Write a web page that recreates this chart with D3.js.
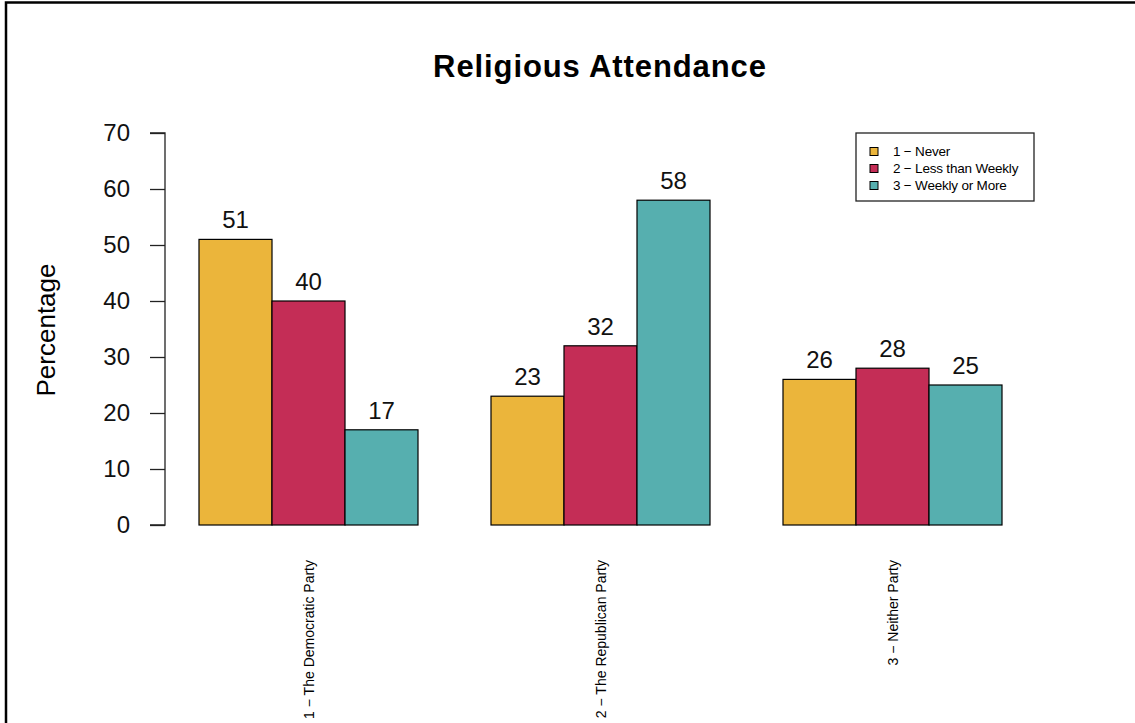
<!DOCTYPE html>
<html><head><meta charset="utf-8">
<script src="https://cdn.jsdelivr.net/npm/d3@7"></script>
<style>html,body{margin:0;padding:0;background:#fff;overflow:hidden}svg{display:block;font-family:"Liberation Sans",Arial,Helvetica,sans-serif}</style>
</head><body>
<svg id="chart" width="1135" height="723"></svg>
<script>
const categories = ["1 − The Democratic Party", "2 − The Republican Party", "3 − Neither Party"];
const seriesNames = ["1 − Never", "2 − Less than Weekly", "3 − Weekly or More"];
const never = [51, 23, 26];
const lessThanWeekly = [40, 32, 28];
const weeklyOrMore = [17, 58, 25];
const yTicks = [0, 10, 20, 30, 40, 50, 60, 70];
const colors = ["#EBB53B", "#C42D56", "#56AFAF"];
const title = "Religious Attendance";
const yLabel = "Percentage";

const series = [never, lessThanWeekly, weeklyOrMore];
const svg = d3.select("#chart");

// outer frame
svg.append("rect").attr("x", 6).attr("y", 2.5).attr("width", 1200).attr("height", 800)
  .attr("fill", "none").attr("stroke", "#000").attr("stroke-width", 2.5);

const y = d3.scaleLinear().domain([0, 70]).range([525, 133]);
// bar units: group g, bar j starts at 1 + g*4 + j
const x = d3.scaleLinear().domain([0, 12]).range([126, 1002]);

// title
svg.append("text").attr("x", 600).attr("y", 77).attr("text-anchor", "middle")
  .attr("font-size", 31).attr("font-weight", "bold").attr("letter-spacing", 0.9).text(title);

// y axis
const yAxis = d3.axisLeft(y).tickValues(yTicks).tickSize(15).tickPadding(20).tickFormat(d3.format("d"));
const ga = svg.append("g").attr("transform", "translate(165,0)").call(yAxis);
ga.select(".domain").attr("stroke", "#222").attr("stroke-width", 1.3).attr("d", `M-15,${y(0)}H0V${y(70)}H-15`);
ga.selectAll(".tick line").attr("stroke", "#222").attr("stroke-width", 1.3);
ga.selectAll(".tick text").attr("font-size", 24).attr("fill", "#111").attr("font-family", "Liberation Sans, Arial, sans-serif");

svg.append("text").attr("transform", "translate(55,330) rotate(-90)").attr("text-anchor", "middle")
  .attr("font-size", 26).text(yLabel);

// bars
const bars = [];
categories.forEach((c, g) => series.forEach((s, j) => bars.push({g, j, v: s[g]})));
svg.append("g").selectAll("rect").data(bars).join("rect")
  .attr("x", d => x(1 + d.g * 4 + d.j)).attr("width", d => x(2 + d.g * 4 + d.j) - x(1 + d.g * 4 + d.j))
  .attr("y", d => y(d.v)).attr("height", d => y(0) - y(d.v))
  .attr("fill", d => colors[d.j]).attr("stroke", "#000").attr("stroke-width", 1.2);

svg.append("g").selectAll("text").data(bars).join("text")
  .attr("x", d => x(1.5 + d.g * 4 + d.j)).attr("y", d => y(d.v) - 11)
  .attr("text-anchor", "middle").attr("font-size", 24).attr("fill", "#111").text(d => d.v);

// category labels
svg.append("g").selectAll("text").data(categories).join("text")
  .attr("transform", (d, g) => `translate(${x(2.5 + g * 4) + 5},560) rotate(-90)`)
  .attr("text-anchor", "end").attr("font-size", 14).text(d => d);

// legend
const lg = svg.append("g");
lg.append("rect").attr("x", 856).attr("y", 133).attr("width", 178).attr("height", 68)
  .attr("fill", "#fff").attr("stroke", "#222").attr("stroke-width", 1.3);
seriesNames.forEach((n, j) => {
  const cy = 151.5 + j * 17;
  lg.append("rect").attr("x", 870).attr("y", cy - 4).attr("width", 8).attr("height", 8)
    .attr("fill", colors[j]).attr("stroke", "#000").attr("stroke-width", 1);
  lg.append("text").attr("x", 893).attr("y", cy + 4.5).attr("font-size", 13.5)
    .attr("letter-spacing", -0.2).text(n);
});
</script>
</body></html>
